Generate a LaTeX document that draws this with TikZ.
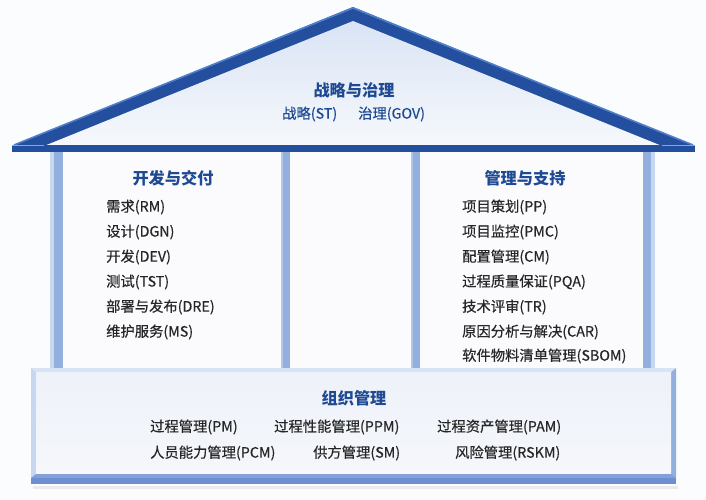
\documentclass[tikz,border=0pt]{standalone}
\usepackage{fontspec}
\setmainfont{Noto Sans CJK SC}
\newfontfamily\itemfont{Noto Sans CJK SC}[FakeBold=0.4]
\usetikzlibrary{shadings}
\definecolor{bgc}{HTML}{FBFCFE}
\definecolor{roofdark}{HTML}{234F9E}
\definecolor{rooflight}{HTML}{4F7FCB}
\definecolor{roofin1}{HTML}{DAE4F5}
\definecolor{roofin2}{HTML}{F6F8FC}
\definecolor{wallc}{HTML}{F4F6FA}
\definecolor{pillar}{HTML}{93AFDE}
\definecolor{pillarlt}{HTML}{C8D7F0}
\definecolor{baseedge}{HTML}{B3C8EC}
\definecolor{basedark}{HTML}{6E8FCF}
\definecolor{basein1}{HTML}{EEF2F9}
\definecolor{basein2}{HTML}{F5F7FB}
\definecolor{headblue}{HTML}{1E4A93}
\definecolor{itemgray}{HTML}{262626}
\tikzset{
  headtxt/.style={font=\fontsize{16.2}{19}\selectfont\bfseries, text=headblue, inner sep=0pt},
  subtxt/.style={font=\fontsize{14.3}{16}\itemfont, text=headblue, anchor=west, inner sep=0pt},
  itemtxt/.style={font=\fontsize{14.3}{16}\itemfont, text=itemgray, anchor=west, inner sep=0pt},
}
\begin{document}
\begin{tikzpicture}[x=1pt,y=-1pt]
\useasboundingbox (0,0) rectangle (706,500);
\fill[bgc] (0,0) rectangle (706,500);

% ---------- walls ----------
\fill[wallc] (50,150) rectangle (655,369);
\fill[white!60!wallc] (63,152) rectangle (281,369);
\fill[white!60!wallc] (290,152) rectangle (411,369);
\fill[white!60!wallc] (420,152) rectangle (643,369);
% pillars
\fill[pillar] (50,150) rectangle (63,369);
\fill[pillarlt] (50,150) rectangle (54,369);
\fill[pillar] (281,150) rectangle (290,369);
\fill[pillarlt!60!pillar] (281,150) rectangle (283,369);
\fill[pillar] (411,150) rectangle (420,369);
\fill[pillarlt!60!pillar] (411,150) rectangle (413,369);
\fill[pillar] (643,150) rectangle (655,369);
\fill[pillarlt] (651,150) rectangle (655,369);

% ---------- roof ----------
\fill[roofdark] (353,7) -- (695,146) -- (12,146) -- cycle;
\draw[rooflight, line width=1.6pt, line join=miter] (14,145) -- (353,8) -- (693,145);
\shade[top color=roofin1, bottom color=roofin2] (353,21) -- (662,146) -- (44,146) -- cycle;
% eave strip
\fill[roofdark] (12,145) rectangle (695,152);
\draw[rooflight!70!white, line width=0.8pt] (12,145.5) -- (44,145.5);
\draw[rooflight!70!white, line width=0.8pt] (662,145.5) -- (695,145.5);

% ---------- base ----------
\fill[black!8] (33,486) rectangle (678,489);
\fill[baseedge] (31,368) rectangle (676,484);
\fill[pillarlt] (31,368) -- (36,372) -- (36,474) -- (31,478) -- cycle;
\fill[pillar] (676,368) -- (671,372) -- (671,474) -- (676,478) -- cycle;
\fill[white!50!baseedge] (31,368) -- (676,368) -- (671,372) -- (36,372) -- cycle;
\shade[top color=basein1, bottom color=basein2] (36,372) rectangle (671,474);
\fill[basedark!70!baseedge] (36,474) -- (671,474) -- (676,478) -- (31,478) -- cycle;
\fill[basedark] (31,478) rectangle (676,484);

% ---------- roof text ----------
\node[headtxt] (gov) at (354,90) {战略与治理};
\node[subtxt] (st) at (282,114) {战略(ST)};
\node[subtxt] (govx) at (358,114) {治理(GOV)};

% ---------- left column ----------
\node[headtxt] (dev) at (173,178) {开发与交付};
\node[itemtxt] (rm) at (106,207) {需求(RM)};
\node[itemtxt] (dgn) at (106,232) {设计(DGN)};
\node[itemtxt] (devx) at (106,257) {开发(DEV)};
\node[itemtxt] (tst) at (106,282) {测试(TST)};
\node[itemtxt] (dre) at (106,307) {部署与发布(DRE)};
\node[itemtxt] (ms) at (106,332) {维护服务(MS)};

% ---------- right column ----------
\node[headtxt] (mgt) at (525,178) {管理与支持};
\node[itemtxt] (pp) at (462,207) {项目策划(PP)};
\node[itemtxt] (pmc) at (462,232) {项目监控(PMC)};
\node[itemtxt] (cm) at (462,257) {配置管理(CM)};
\node[itemtxt] (pqa) at (462,282) {过程质量保证(PQA)};
\node[itemtxt] (tr) at (462,307) {技术评审(TR)};
\node[itemtxt] (car) at (462,332) {原因分析与解决(CAR)};
\node[itemtxt] (sbom) at (462,356) {软件物料清单管理(SBOM)};

% ---------- base text ----------
\node[headtxt] (org) at (354,398) {组织管理};
\node[itemtxt] (pm) at (150,427) {过程管理(PM)};
\node[itemtxt] (ppm) at (274,427) {过程性能管理(PPM)};
\node[itemtxt] (pam) at (437,427) {过程资产管理(PAM)};
\node[itemtxt] (pcm) at (150,453) {人员能力管理(PCM)};
\node[itemtxt] (sm) at (313,453) {供方管理(SM)};
\node[itemtxt] (rskm) at (455,453) {风险管理(RSKM)};
\end{tikzpicture}
\end{document}
